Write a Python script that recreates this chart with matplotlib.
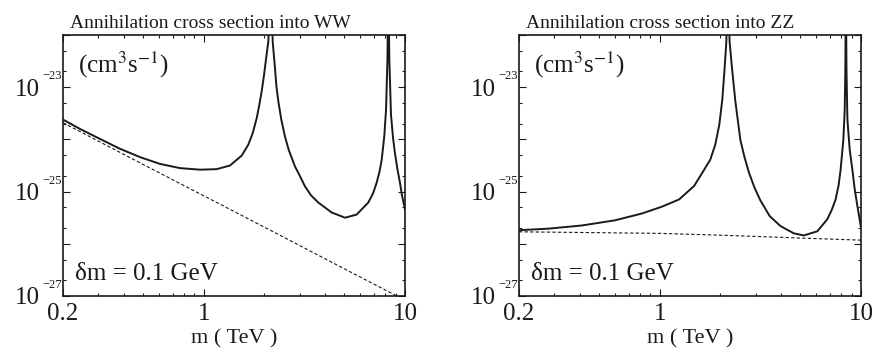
import numpy as np
import matplotlib
matplotlib.use('Agg')
import matplotlib.pyplot as plt
from matplotlib.ticker import FixedLocator, FixedFormatter, LogLocator, NullFormatter

plt.rcParams['font.family'] = ['Liberation Serif', 'DejaVu Serif']
plt.rcParams['mathtext.fontset'] = 'stix'

# mass m in TeV, values are log10 of the cross section (cm^3 s^-1)
ww_m = [0.200, 0.243, 0.305, 0.384, 0.483, 0.607, 0.762, 0.958, 1.160, 1.351, 1.545,
        1.666, 1.752, 1.834, 1.889, 1.941, 1.993, 2.032, 2.094, 2.152, 2.202, 2.227,
        2.261, 2.294, 2.348, 2.429, 2.535, 2.644, 2.842, 2.951, 3.185, 3.41, 3.71,
        4.32, 5.04, 5.75, 6.57, 6.93, 7.23, 7.47, 7.66, 7.89, 8.05, 8.18, 8.26, 8.36,
        8.52, 8.72, 8.91, 9.18, 9.44, 9.66, 10.0]
ww_log = [-23.62, -23.80, -23.99, -24.18, -24.34, -24.47, -24.55, -24.58, -24.57,
          -24.50, -24.31, -24.10, -23.88, -23.59, -23.34, -23.08, -22.77, -22.51,
          -22.13, -21.0, -22.13, -22.35, -22.64, -22.96, -23.27, -23.62, -23.95,
          -24.20, -24.52, -24.64, -24.90, -25.07, -25.21, -25.40, -25.50, -25.44,
          -25.21, -25.04, -24.83, -24.62, -24.39, -23.94, -23.43, -22.48, -21.0,
          -22.48, -23.53, -23.97, -24.26, -24.58, -24.83, -25.07, -25.34]
ww_tree_m = [0.2, 0.5, 1, 2, 5, 10]
ww_tree_log = [-23.68, -24.48, -25.08, -25.68, -26.48, -27.08]

zz_m = [0.200, 0.279, 0.409, 0.600, 0.815, 1.024, 1.249, 1.484, 1.621, 1.783, 1.888,
        1.977, 2.046, 2.101, 2.143, 2.175, 2.225, 2.287, 2.376, 2.516, 2.634, 2.767,
        2.954, 3.164, 3.52, 3.98, 4.64, 5.20, 6.07, 6.80, 7.14, 7.48, 7.74, 7.92,
        8.17, 8.30, 8.36, 8.41, 8.47, 8.56, 8.79, 9.06, 9.31, 9.60, 10.0]
zz_log = [-25.74, -25.71, -25.65, -25.55, -25.42, -25.29, -25.15, -24.89, -24.65,
          -24.39, -24.10, -23.72, -23.24, -22.64, -22.13, -21.0, -22.13, -22.64,
          -23.27, -24.01, -24.33, -24.62, -24.92, -25.17, -25.47, -25.66, -25.80,
          -25.84, -25.76, -25.53, -25.36, -25.15, -24.88, -24.58, -24.01, -23.43,
          -22.67, -21.0, -22.67, -23.62, -24.20, -24.58, -24.96, -25.28, -25.69]
zz_tree_m = [0.2, 1, 2.2, 5, 10]
zz_tree_log = [-25.77, -25.80, -25.84, -25.89, -25.93]

x_ticks = [0.2, 1, 10]
x_labels = ['0.2', '1', '10']
y_decades = [-27, -26, -25, -24, -23, -22]
y_labeled = [-27, -25, -23]

panels = [
    ('Annihilation cross section into WW', ww_m, ww_log, ww_tree_m, ww_tree_log),
    ('Annihilation cross section into ZZ', zz_m, zz_log, zz_tree_m, zz_tree_log),
]
lefts = [63 / 872, 519 / 872]

fig = plt.figure(figsize=(8.72, 3.52), dpi=100)

for left, (title, m, lg, tm, tlg) in zip(lefts, panels):
    ax = fig.add_axes([left, 56 / 352, 342 / 872, 261 / 352])
    ax.plot(m, 10.0 ** np.array(lg), color='#1a1a1a', lw=1.4)
    ax.plot(tm, 10.0 ** np.array(tlg), color='#1a1a1a', lw=0.8, ls=(0, (3, 2)))

    ax.set_xscale('log')
    ax.set_yscale('log')
    ax.set_xlim(0.2, 10)
    ax.set_ylim(1e-27, 1e-22)

    ax.xaxis.set_major_locator(FixedLocator(x_ticks))
    ax.xaxis.set_major_formatter(FixedFormatter(x_labels))
    ax.xaxis.set_minor_locator(LogLocator(subs=np.arange(2, 10)))
    ax.xaxis.set_minor_formatter(NullFormatter())

    ax.yaxis.set_major_locator(FixedLocator([10.0 ** d for d in y_decades]))
    ax.yaxis.set_major_formatter(FixedFormatter(['10' if d in y_labeled else '' for d in y_decades]))
    ax.yaxis.set_minor_locator(LogLocator(subs=(2, 5)))
    ax.yaxis.set_minor_formatter(NullFormatter())

    ax.tick_params(which='both', direction='in', top=True, right=True, width=0.8, colors='#1a1a1a')
    ax.tick_params(which='major', length=5)
    ax.tick_params(which='minor', length=2.5)
    ax.tick_params(axis='x', labelsize=18, pad=5)
    ax.tick_params(axis='y', labelsize=18, pad=17)
    for sp in ax.spines.values():
        sp.set_linewidth(1.2)
        sp.set_color('#1a1a1a')

    # small raised exponents next to the "10" labels
    for d in y_labeled:
        ax.annotate('\u2212%d' % abs(d), xy=(0, 10.0 ** d), xycoords=ax.get_yaxis_transform(),
                    xytext=(-1, 3.5), textcoords='offset points', ha='right', va='bottom',
                    fontsize=9, color='#1a1a1a')

    ax.text(0.02, 1.027, title, transform=ax.transAxes, ha='left', va='baseline',
            fontsize=14, color='#1a1a1a')
    ax.text(0.045, 0.885, '(cm$^{3}$s$^{-1}$)', transform=ax.transAxes, ha='left',
            va='center', fontsize=18, color='#1a1a1a')
    ax.text(0.035, 0.085, '\u03b4m = 0.1 GeV', transform=ax.transAxes, ha='left',
            va='center', fontsize=18, color='#1a1a1a')
    ax.set_xlabel('m ( TeV )', fontsize=16, labelpad=3, color='#1a1a1a')

fig.savefig('out.png', dpi=100)
